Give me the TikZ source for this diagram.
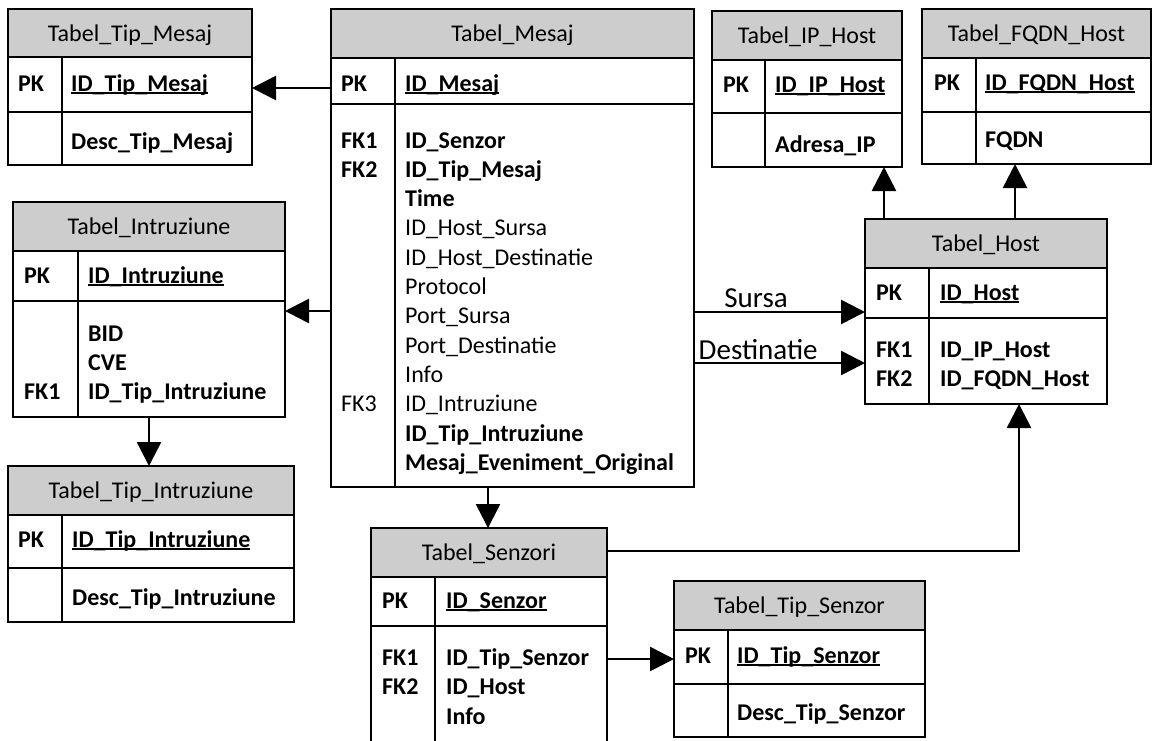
\documentclass[tikz,border=0pt]{standalone}
\usepackage{fontspec}
\setmainfont{Carlito}
\usetikzlibrary{arrows.meta}
\definecolor{hdrgray}{RGB}{205,205,205}

% underlined primary key, rule placed just under the baseline
\newsavebox\keybox
\newcommand\keyul[1]{\sbox\keybox{#1}\rlap{\rule[-3.2pt]{\wd\keybox}{1.8pt}}\usebox\keybox}

\tikzset{
  tblframe/.style={draw=black, line width=2pt, inner sep=0pt, outer sep=0pt},
  tblline/.style={draw=black, line width=2pt},
  hdrtext/.style={font=\fontsize{24}{29.3}\selectfont, inner sep=0pt},
  txt/.style={font=\fontsize{24}{29.3}\selectfont, inner sep=0pt, anchor=base west},
  rel/.style={draw=black, line width=2.6pt, -{Triangle[length=24pt,width=24pt]}},
  rellabel/.style={font=\fontsize{29}{34}\selectfont, inner sep=0pt, anchor=base west},
}

% #1 name, #2 left, #3 top, #4 right, #5 bottom,
% #6 header bottom, #7 key row bottom, #8 key column divider, #9 title
\newcommand\ertable[9]{%
  \fill[hdrgray] (#2,#3) rectangle (#4,#6);
  \node[tblframe, anchor=north west,
        minimum width={(#4)-(#2)}, minimum height={(#5)-(#3)}] (#1) at (#2,#3) {};
  \draw[tblline] (#2,#6) -- (#4,#6) (#2,#7) -- (#4,#7) (#8,#6) -- (#8,#5);
  \node[hdrtext, anchor=base] (#1-title) at ({(#2+#4)/2},{#3+32}) {#9};
}
% #1 name, #2 x, #3 baseline y, #4 text
\newcommand\ertext[4]{\node[txt] (#1) at (#2,#3) {#4};}

\begin{document}
\begin{tikzpicture}[x=1pt,y=-1pt]
\useasboundingbox (0,0) rectangle (1153,740);
\clip (0,0) rectangle (1153,740);

% ---------- tables ----------
\ertable{tipmesaj}{8}{9}{252}{165}{57}{112}{62}{Tabel\_Tip\_Mesaj}
\ertable{mesaj}{331}{9}{694}{487}{58}{104}{395}{Tabel\_Mesaj}
\ertable{iphost}{712}{11}{902}{167}{60}{113}{765}{Tabel\_IP\_Host}
\ertable{fqdnhost}{922}{9}{1151}{164}{58}{112}{976}{Tabel\_FQDN\_Host}
\ertable{host}{865}{219}{1107}{404}{268}{318}{929}{Tabel\_Host}
\ertable{intruz}{13}{202}{285}{417}{251}{301}{78}{Tabel\_Intruziune}
\ertable{tipintruz}{8}{466}{294}{622}{515}{568}{62}{Tabel\_Tip\_Intruziune}
\ertable{senzori}{371}{528}{607}{770}{577}{626}{435}{Tabel\_Senzori}
\ertable{tipsenzor}{674}{581}{925}{737}{630}{684}{728}{Tabel\_Tip\_Senzor}

% ---------- Tabel_Tip_Mesaj ----------
\ertext{tm-pk}{18}{91}{\textbf{PK}}
\ertext{tm-id}{71}{91}{\keyul{\textbf{ID\_Tip\_Mesaj}}}
\ertext{tm-desc}{71}{149}{\textbf{Desc\_Tip\_Mesaj}}

% ---------- Tabel_Mesaj ----------
\ertext{m-pk}{341}{91}{\textbf{PK}}
\ertext{m-id}{405}{91}{\keyul{\textbf{ID\_Mesaj}}}
\ertext{m-fk1}{341}{148}{\textbf{FK1}}
\ertext{m-fk2}{341}{177.3}{\textbf{FK2}}
\ertext{m-fk3}{341}{411.7}{FK3}
\foreach \t [count=\i] in {\textbf{ID\_Senzor}, \textbf{ID\_Tip\_Mesaj}, \textbf{Time},
    ID\_Host\_Sursa, ID\_Host\_Destinatie, Protocol, Port\_Sursa, Port\_Destinatie,
    Info, ID\_Intruziune, \textbf{ID\_Tip\_Intruziune}, \textbf{Mesaj\_Eveniment\_Original}}
  \node[txt] (m-f\i) at (405,{148+29.3*(\i-1)}) {\t};

% ---------- Tabel_IP_Host ----------
\ertext{ip-pk}{723}{92}{\textbf{PK}}
\ertext{ip-id}{775}{92}{\keyul{\textbf{ID\_IP\_Host}}}
\ertext{ip-addr}{775}{152}{\textbf{Adresa\_IP}}

% ---------- Tabel_FQDN_Host ----------
\ertext{fq-pk}{934}{90}{\textbf{PK}}
\ertext{fq-id}{985}{90}{\keyul{\textbf{ID\_FQDN\_Host}}}
\ertext{fq-name}{985}{147}{\textbf{FQDN}}

% ---------- Tabel_Host ----------
\ertext{h-pk}{876}{300}{\textbf{PK}}
\ertext{h-id}{940}{300}{\keyul{\textbf{ID\_Host}}}
\ertext{h-fk1}{876}{357}{\textbf{FK1}}
\ertext{h-fk2}{876}{386.3}{\textbf{FK2}}
\ertext{h-f1}{940}{357}{\textbf{ID\_IP\_Host}}
\ertext{h-f2}{940}{386.3}{\textbf{ID\_FQDN\_Host}}

% ---------- Tabel_Intruziune ----------
\ertext{i-pk}{24}{283}{\textbf{PK}}
\ertext{i-id}{88}{283}{\keyul{\textbf{ID\_Intruziune}}}
\ertext{i-f1}{88}{341}{\textbf{BID}}
\ertext{i-f2}{88}{370.3}{\textbf{CVE}}
\ertext{i-f3}{88}{399.6}{\textbf{ID\_Tip\_Intruziune}}
\ertext{i-fk1}{24}{399.6}{\textbf{FK1}}

% ---------- Tabel_Tip_Intruziune ----------
\ertext{ti-pk}{18}{547}{\textbf{PK}}
\ertext{ti-id}{72}{547}{\keyul{\textbf{ID\_Tip\_Intruziune}}}
\ertext{ti-desc}{72}{605}{\textbf{Desc\_Tip\_Intruziune}}

% ---------- Tabel_Senzori ----------
\ertext{s-pk}{382}{608}{\textbf{PK}}
\ertext{s-id}{446}{608}{\keyul{\textbf{ID\_Senzor}}}
\ertext{s-fk1}{382}{665.5}{\textbf{FK1}}
\ertext{s-fk2}{382}{694.8}{\textbf{FK2}}
\ertext{s-f1}{446}{665.5}{\textbf{ID\_Tip\_Senzor}}
\ertext{s-f2}{446}{694.8}{\textbf{ID\_Host}}
\ertext{s-f3}{446}{724.1}{\textbf{Info}}

% ---------- Tabel_Tip_Senzor ----------
\ertext{ts-pk}{685}{663}{\textbf{PK}}
\ertext{ts-id}{737}{663}{\keyul{\textbf{ID\_Tip\_Senzor}}}
\ertext{ts-desc}{737}{720}{\textbf{Desc\_Tip\_Senzor}}

% ---------- relationships ----------
\coordinate (yTM) at (0,88);
\coordinate (yIN) at (0,311);
\coordinate (ySU) at (0,312);
\coordinate (yDE) at (0,363);
\coordinate (ySH) at (0,551);
\coordinate (yTS) at (0,659);
\coordinate (xIT) at (149,0);
\coordinate (xSZ) at (488,0);
\coordinate (xIP) at (884,0);
\coordinate (xFQ) at (1015,0);
\coordinate (xSH) at (1019,0);

\draw[rel] (mesaj.west |- yTM) -- (tipmesaj.east |- yTM);
\draw[rel] (mesaj.west |- yIN) -- (intruz.east |- yIN);
\draw[rel] (mesaj.east |- ySU) -- node[rellabel, pos=0.17, yshift=5pt] (lbl-sursa) {Sursa} (host.west |- ySU);
\draw[rel] (mesaj.east |- yDE) -- node[rellabel, pos=0.02, yshift=4pt] (lbl-dest) {Destinatie} (host.west |- yDE);
\draw[rel] (intruz.south -| xIT) -- (tipintruz.north -| xIT);
\draw[rel] (mesaj.south -| xSZ) -- (senzori.north -| xSZ);
\draw[rel] (host.north -| xIP) -- (iphost.south -| xIP);
\draw[rel] (host.north -| xFQ) -- (fqdnhost.south -| xFQ);
\draw[rel] (senzori.east |- ySH) -| (host.south -| xSH);
\draw[rel] (senzori.east |- yTS) -- (tipsenzor.west |- yTS);
\end{tikzpicture}
\end{document}
